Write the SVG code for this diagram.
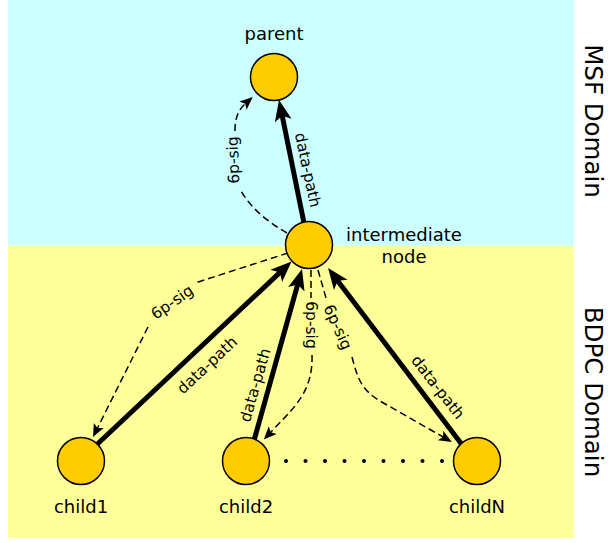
<svg xmlns="http://www.w3.org/2000/svg" width="608" height="543" viewBox="0 0 608 543">
<defs>
<style>
.node circle{fill:#ffcc00;stroke:#000;stroke-width:1.5}
.lbl{font-family:"DejaVu Sans",sans-serif;font-size:18px;fill:#000;text-anchor:middle}
.el{font-family:"DejaVu Sans",sans-serif;font-size:15.5px;fill:#000;text-anchor:middle}
.dom{font-family:"DejaVu Sans",sans-serif;font-size:24.5px;fill:#000;text-anchor:middle}
.thick{fill:none;stroke:#000;stroke-width:5;marker-end:url(#big)}
.dash{fill:none;stroke:#000;stroke-width:1.5;stroke-dasharray:7,4}
.dashA{fill:none;stroke:#000;stroke-width:1.5;stroke-dasharray:7,4;marker-end:url(#small)}
</style>
<marker id="big" markerUnits="userSpaceOnUse" markerWidth="40" markerHeight="40" viewBox="-20 -20 40 40" refX="0" refY="0" orient="auto">
<path d="M13,0 L-8,-8.5 L-3,0 L-8,8.5 Z" fill="#000"/>
</marker>
<marker id="small" markerUnits="userSpaceOnUse" markerWidth="30" markerHeight="30" viewBox="-15 -15 30 30" refX="0" refY="0" orient="auto">
<path d="M9,0 L-4,-5.5 L-1,0 L-4,5.5 Z" fill="#000"/>
</marker>
</defs>
<g id="background">
<rect x="8" y="0" width="566" height="246" fill="#ccffff"/>
<rect x="8" y="246" width="566" height="292" fill="#ffff99"/>
</g>
<g id="connectors">
<path class="thick" d="M304,223 L281.6,112.7"/>
<path class="thick" d="M90,451 L282.1,270.4"/>
<path class="thick" d="M253,444 L298.5,281.5"/>
<path class="thick" d="M463,446 L335.9,278.4"/>
<path class="dash" d="M287,233 C268,222 250,208 240,189"/>
<path class="dashA" d="M235,131 C235,118 238,110 246,103"/>
<path class="dash" d="M288,253 L195,283"/>
<path class="dashA" d="M148,327 L97,429"/>
<path class="dash" d="M311,270 L311,298"/>
<path class="dashA" d="M312,355 C313,385 300,400 290,412 L270,433"/>
<path class="dash" d="M318,270 L326,298"/>
<path class="dashA" d="M352,357 C358,380 362,390 380,401 L444,437.5"/>
<g id="dots" fill="#000">
<circle cx="286" cy="461" r="2"/><circle cx="305.5" cy="461" r="2"/><circle cx="325" cy="461" r="2"/><circle cx="344.5" cy="461" r="2"/><circle cx="364" cy="461" r="2"/><circle cx="383.5" cy="461" r="2"/><circle cx="403" cy="461" r="2"/><circle cx="422.5" cy="461" r="2"/><circle cx="442" cy="461" r="2"/>
</g>
<g id="edge-labels">
<text class="el" transform="translate(308,170) rotate(78)" dy="0.35em">data-path</text>
<text class="el" transform="translate(233,160) rotate(-92)" dy="0.35em">6p-sig</text>
<text class="el" transform="translate(172,302) rotate(-35)" dy="0.35em">6p-sig</text>
<text class="el" transform="translate(207,365) rotate(-43)" dy="0.35em">data-path</text>
<text class="el" transform="translate(255,385) rotate(-74)" dy="0.35em">data-path</text>
<text class="el" transform="translate(311,325) rotate(90)" dy="0.35em">6p-sig</text>
<text class="el" transform="translate(338,327) rotate(66)" dy="0.35em">6p-sig</text>
<text class="el" transform="translate(438,387) rotate(52)" dy="0.35em">data-path</text>
</g>
</g>
<g id="parent" class="node">
<circle cx="274" cy="77" r="23.5"/>
<text class="lbl" x="274" y="40">parent</text>
</g>
<g id="intermediate" class="node">
<circle cx="309" cy="245" r="23.5"/>
<text class="lbl" x="404" y="241">intermediate</text>
<text class="lbl" x="404" y="263">node</text>
</g>
<g id="child1" class="node">
<circle cx="81" cy="461" r="23.5"/>
<text class="lbl" x="81" y="513">child1</text>
</g>
<g id="child2" class="node">
<circle cx="246" cy="461" r="23.5"/>
<text class="lbl" x="246" y="513">child2</text>
</g>
<g id="childN" class="node">
<circle cx="477" cy="461" r="23.5"/>
<text class="lbl" x="477" y="513">childN</text>
</g>
<g id="domains">
<text class="dom" transform="translate(594,121) rotate(90)" dy="0.35em">MSF Domain</text>
<text class="dom" transform="translate(594,392) rotate(90)" dy="0.35em">BDPC Domain</text>
</g>
</svg>
